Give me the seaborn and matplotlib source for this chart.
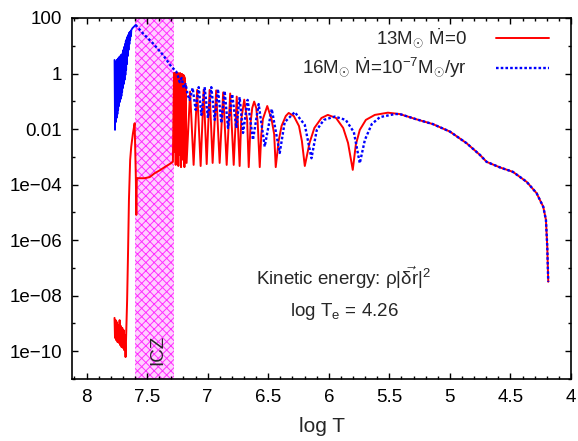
import numpy as np
import matplotlib
matplotlib.use("Agg")
import matplotlib.pyplot as plt
import seaborn as sns
from matplotlib.ticker import FixedLocator, FixedFormatter, MultipleLocator

sns.set_style("ticks")
plt.rcParams["font.family"] = ["Liberation Sans", "DejaVu Sans"]
plt.rcParams["mathtext.fontset"] = "custom"
plt.rcParams["mathtext.rm"] = "Liberation Sans"
plt.rcParams["mathtext.it"] = "Liberation Sans:italic"
plt.rcParams["mathtext.bf"] = "Liberation Sans:bold"
plt.rcParams["mathtext.sf"] = "Liberation Sans"
plt.rcParams["path.simplify"] = False
plt.rcParams["hatch.linewidth"] = 0.7

# ---- 13 Msun, no mass loss: log T and log10 of kinetic energy ----
red_logT = [
    7.769, 7.765, 7.760, 7.755, 7.750, 7.744, 7.738, 7.733, 7.727, 7.722,
    7.717, 7.711, 7.705, 7.700, 7.694, 7.689, 7.684, 7.678,
    7.665, 7.657, 7.650, 7.640, 7.631, 7.617, 7.603, 7.593, 7.589, 7.585,
    7.576, 7.521, 7.479, 7.438, 7.397, 7.355, 7.314, 7.287,
    7.278, 7.276, 7.273, 7.270, 7.267, 7.264, 7.262, 7.259, 7.256, 7.253,
    7.250, 7.248, 7.245, 7.242, 7.239, 7.236, 7.234, 7.231, 7.228, 7.225,
    7.222, 7.220, 7.217, 7.214, 7.211, 7.208, 7.206, 7.203, 7.200, 7.197,
    7.194, 7.192, 7.189, 7.185, 7.182,
    7.174, 7.145, 7.116, 7.087, 7.058, 7.033, 7.008, 6.984, 6.959, 6.930,
    6.901, 6.872, 6.843, 6.814, 6.785, 6.760, 6.736, 6.723, 6.698, 6.674,
    6.661, 6.645, 6.632, 6.616, 6.599, 6.587, 6.570,
    6.557, 6.544, 6.508, 6.473, 6.451, 6.438,
    6.414, 6.390, 6.355, 6.331, 6.289, 6.246, 6.222, 6.198,
    6.159, 6.119, 6.060, 6.008, 5.940, 5.881, 5.841, 5.802,
    5.777, 5.744, 5.694, 5.620, 5.512,
    5.413, 5.275, 5.141, 5.000, 4.862, 4.752, 4.697, 4.587, 4.480, 4.366,
    4.284, 4.229, 4.207, 4.196, 4.188,
]
red_logE = [
    -8.80, -9.52, -8.88, -9.60, -8.95, -9.67, -9.06, -9.70, -8.88, -9.78,
    -9.09, -9.85, -9.16, -9.88, -9.24, -9.96, -9.42, -10.21,
    -8.16, -6.35, -4.55, -3.11, -2.63, -2.15, -1.79, -3.76, -5.09, -3.76,
    -3.77, -3.77, -3.73, -3.59, -3.49, -3.37, -3.26, -3.18,
    0.02, -2.75, -0.02, -2.83, 0.02, -3.29, -0.02, -2.75, 0.02, -2.93,
    -0.02, -2.75, 0.02, -3.33, -0.02, -2.75, -0.02, -2.93, 0.02, -2.75,
    -0.05, -3.37, -0.02, -2.83, -0.02, -2.75, -0.05, -3.11, -0.05, -2.75,
    -0.09, -3.37, -0.16, -2.75, -0.41,
    -3.22, -0.65, -3.29, -0.59, -3.33, -0.58, -3.26, -0.59, -3.22, -0.61,
    -3.22, -0.68, -3.29, -0.72, -3.29, -0.83, -3.33, -1.67, -0.94, -1.67,
    -3.37, -1.75, -1.24, -1.01, -1.24, -1.75, -3.37,
    -2.18, -1.64, -1.17, -1.64, -2.18, -3.37,
    -2.43, -1.89, -1.53, -1.42, -1.53, -1.89, -2.43, -3.33,
    -2.50, -1.96, -1.60, -1.49, -1.60, -1.96, -2.50, -3.47,
    -2.57, -2.03, -1.67, -1.49, -1.41,
    -1.46, -1.65, -1.82, -2.09, -2.51, -2.93, -3.18, -3.38, -3.54, -3.90,
    -4.31, -4.80, -5.27, -6.24, -7.50,
]

# ---- 16 Msun, Mdot = 1e-7 Msun/yr ----
# rapidly oscillating core-side stretch (dense enough to read as a solid band)
blue_core_logT = [
    7.769, 7.765, 7.762, 7.759, 7.755, 7.752, 7.749, 7.745, 7.742, 7.739,
    7.736, 7.732, 7.729, 7.726, 7.722, 7.719, 7.716, 7.712, 7.709, 7.706,
    7.702, 7.699, 7.696, 7.693, 7.689, 7.686, 7.683, 7.679, 7.676, 7.673,
    7.669, 7.666, 7.663, 7.659, 7.656, 7.653, 7.650, 7.646, 7.643, 7.640,
    7.636, 7.633, 7.630, 7.620, 7.608, 7.595,
]
blue_core_logE = [
    0.49, -2.03, 0.42, -1.75, 0.45, -1.60, 0.49, -1.46, 0.52, -1.31,
    0.56, -1.17, 0.60, -1.03, 0.63, -0.92, 0.67, -0.81, 0.67, -0.67,
    0.74, -0.52, 0.85, -0.38, 0.96, -0.23, 1.06, -0.05, 1.17, 0.13,
    1.24, 0.34, 1.32, 0.63, 1.39, 0.85, 1.46, 1.06, 1.50, 1.21,
    1.53, 1.35, 1.57, 1.64, 1.69, 1.75,
]
# from the peak outward to the surface
blue_logT = [
    7.595, 7.535, 7.452, 7.369, 7.300, 7.259,
    7.248, 7.231, 7.215, 7.198, 7.182, 7.165,
    7.149, 7.124, 7.099, 7.074, 7.052, 7.025, 6.998, 6.970, 6.942, 6.915,
    6.887, 6.860, 6.832, 6.798, 6.763, 6.736, 6.708, 6.670, 6.626, 6.579,
    6.529, 6.471, 6.405, 6.364, 6.281, 6.198, 6.143, 6.099, 6.041, 5.950,
    5.860, 5.793, 5.744, 5.702, 5.645, 5.578, 5.455,
    5.413, 5.275, 5.141, 5.000, 4.862, 4.752, 4.697, 4.587, 4.480, 4.366,
    4.284, 4.229, 4.207, 4.196, 4.188,
]
blue_logE = [
    1.75, 1.45, 1.09, 0.67, 0.25, 0.07,
    -0.05, -0.31, -0.16, -0.52, -0.38, -0.77,
    -0.95, -0.52, -1.31, -0.49, -1.49, -0.49, -1.60, -0.49, -1.67, -0.56,
    -1.78, -0.63, -1.96, -0.74, -1.96, -0.85, -2.14, -0.95, -2.39, -1.10,
    -2.63, -1.28, -2.86, -1.75, -1.39, -1.85, -3.05, -2.03, -1.67, -1.55,
    -1.67, -2.11, -3.23, -2.39, -1.82, -1.57, -1.46,
    -1.46, -1.65, -1.82, -2.09, -2.51, -2.93, -3.18, -3.38, -3.54, -3.90,
    -4.31, -4.80, -5.27, -6.24, -7.50,
]

# intermediate convection zone (log T range)
icz_hot, icz_cool = 7.6, 7.28

x_major = [8, 7.5, 7, 6.5, 6, 5.5, 5, 4.5, 4]
x_labels = ["8", "7.5", "7", "6.5", "6", "5.5", "5", "4.5", "4"]
y_major = [1e2, 1e0, 1e-2, 1e-4, 1e-6, 1e-8, 1e-10]
y_labels = ["100", "1", "0.01", "1e\u221204", "1e\u221206", "1e\u221208", "1e\u221210"]
y_minor = [1e1, 1e-1, 1e-3, 1e-5, 1e-7, 1e-9, 1e-11]

label_13 = r"13M$_{\odot}$ $\dot{\mathrm{M}}$=0"
label_16 = r"16M$_{\odot}$ $\dot{\mathrm{M}}$=10$^{-7}$M$_{\odot}$/yr"

fig = plt.figure(figsize=(5.78, 4.41), dpi=100)
ax = fig.add_axes([0.1246, 0.1406, 0.8633, 0.8186])
ax.set_yscale("log")

ax.axvspan(icz_cool, icz_hot, facecolor="#ffd0ff", edgecolor="#ff30ff",
           hatch="xxxx", linewidth=0, zorder=0)

sns.lineplot(x=red_logT, y=10 ** np.array(red_logE), sort=False, estimator=None,
             color="#ff0000", linewidth=1.4, label=label_13, ax=ax, zorder=3)
sns.lineplot(x=blue_core_logT, y=10 ** np.array(blue_core_logE), sort=False,
             estimator=None, color="#0000ff", linewidth=1.3, ax=ax, zorder=4,
             legend=False)
sns.lineplot(x=blue_logT, y=10 ** np.array(blue_logE), sort=False, estimator=None,
             color="#0000ff", linewidth=1.7, linestyle=(0, (1.1, 0.9)),
             label=label_16, ax=ax, zorder=4)

ax.set_xlim(8.12, 4)
ax.set_ylim(1e-11, 1e2)
ax.xaxis.set_major_locator(FixedLocator(x_major))
ax.xaxis.set_major_formatter(FixedFormatter(x_labels))
ax.xaxis.set_minor_locator(MultipleLocator(0.1))
ax.yaxis.set_major_locator(FixedLocator(y_major))
ax.yaxis.set_major_formatter(FixedFormatter(y_labels))
ax.yaxis.set_minor_locator(FixedLocator(y_minor))
ax.yaxis.set_minor_formatter(FixedFormatter([""] * len(y_minor)))

ax.tick_params(which="both", direction="in", top=True, right=True,
               colors="black", labelsize=13.5, width=1)
ax.tick_params(which="major", length=4.5, pad=7)
ax.tick_params(which="minor", length=2.3)
for sp in ax.spines.values():
    sp.set_linewidth(1.2)
    sp.set_color("black")

ax.set_xlabel("log T", fontsize=15, labelpad=8)
ax.set_ylabel("")

handles, labels = ax.get_legend_handles_labels()
ax.legend(handles, labels, loc="upper right", bbox_to_anchor=(0.982, 1.012),
          frameon=False, markerfirst=False, handlelength=2.8, handletextpad=1.6,
          labelspacing=0.3, fontsize=13.5, borderaxespad=0.3)

ax.text(0.545, 0.28, r"Kinetic energy: $\mathrm{\rho}|\vec{\mathrm{\delta r}}|^2$",
        transform=ax.transAxes, ha="center", va="center", fontsize=13.5)
ax.text(0.545, 0.186, r"log T$_\mathrm{e}$ = 4.26",
        transform=ax.transAxes, ha="center", va="center", fontsize=13.5)
ax.text(0.172, 0.08, "ICZ", transform=ax.transAxes, rotation=90,
        ha="center", va="center", fontsize=13.5)

fig.savefig("out.png", dpi=100)
